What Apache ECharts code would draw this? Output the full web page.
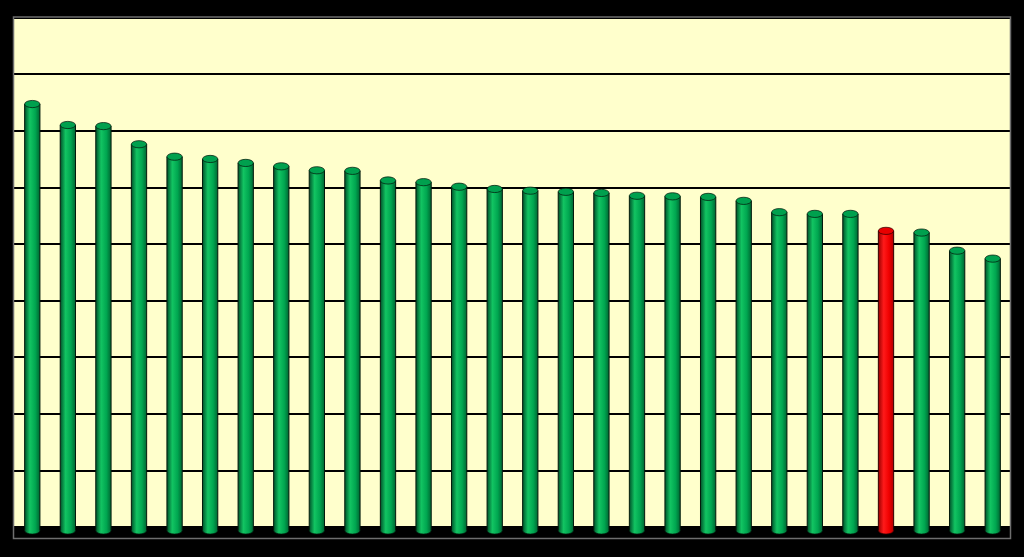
<!DOCTYPE html>
<html>
<head>
<meta charset="utf-8">
<script src="https://cdn.jsdelivr.net/npm/echarts@6/dist/echarts.min.js"></script>
<style>
html,body{margin:0;padding:0;background:#000;}
#chart{width:1024px;height:557px;}
</style>
</head>
<body>
<div id="chart"></div>
<script>
const categories = ['1','2','3','4','5','6','7','8','9','10','11','12','13','14','15','16','17','18','19','20','21','22','23','24','25','26','27','28'];
const values = [7.47, 7.10, 7.08, 6.76, 6.54, 6.50, 6.43, 6.37, 6.30, 6.29, 6.12, 6.09, 6.01, 5.97, 5.94, 5.92, 5.90, 5.85, 5.84, 5.83, 5.76, 5.56, 5.53, 5.53, 5.23, 5.20, 4.88, 4.74];
const highlighted = ['25'];
const yTicks = [0, 1, 2, 3, 4, 5, 6, 7, 8, 9];

const chart = echarts.init(document.getElementById('chart'), null, {renderer: 'canvas'});

function grad(c) {
  return new echarts.graphic.LinearGradient(0, 0, 1, 0, [
    {offset: 0, color: c[0]},
    {offset: 0.35, color: c[1]},
    {offset: 0.7, color: c[2]},
    {offset: 1, color: c[3]}
  ]);
}
const GREEN = {body: ['#00522a', '#12c462', '#00a650', '#006632'], top: '#00a04e', stroke: '#041a0c'};
const RED = {body: ['#9a0000', '#ff1a1a', '#f00000', '#b00000'], top: '#e80000', stroke: '#300000'};

function renderItem(params, api) {
  const idx = api.value(0);
  const val = api.value(1);
  const top = api.coord([idx, val]);
  const base = api.coord([idx, 0]);
  const bw = api.size([1, 0])[0];
  const rx = Math.max(3, bw * 0.215);
  const ry = 3.6;
  const cx = top[0] + 0.5;
  const ty = top[1];
  const by = base[1] + 3.5;
  const pal = highlighted.indexOf(categories[idx]) >= 0 ? RED : GREEN;
  return {
    type: 'group',
    children: [
      {
        type: 'circle',
        x: cx, y: by, scaleY: ry / rx,
        shape: {cx: 0, cy: 0, r: rx},
        style: {fill: grad(pal.body), stroke: pal.stroke, lineWidth: 1, strokeNoScale: true}
      },
      {
        type: 'rect',
        shape: {x: cx - rx, y: ty, width: rx * 2, height: by - ty},
        style: {fill: grad(pal.body)}
      },
      {
        type: 'line',
        shape: {x1: cx - rx, y1: ty, x2: cx - rx, y2: by},
        style: {stroke: pal.stroke, lineWidth: 1}
      },
      {
        type: 'line',
        shape: {x1: cx + rx, y1: ty, x2: cx + rx, y2: by},
        style: {stroke: pal.stroke, lineWidth: 1}
      },
      {
        type: 'circle',
        x: cx, y: ty, scaleY: ry / rx,
        shape: {cx: 0, cy: 0, r: rx},
        style: {fill: pal.top, stroke: pal.stroke, lineWidth: 1, strokeNoScale: true}
      }
    ]
  };
}

const option = {
  backgroundColor: '#000000',
  animation: false,
  grid: {
    left: 14, top: 17.4, width: 996, height: 509.6,
    show: true, backgroundColor: '#FFFFCC', borderWidth: 0
  },
  xAxis: {
    type: 'category', data: categories,
    axisLine: {show: false}, axisTick: {show: false}, axisLabel: {show: false},
    splitLine: {show: false}
  },
  yAxis: {
    type: 'value', min: yTicks[0], max: yTicks[yTicks.length - 1], interval: 1,
    axisLine: {show: false}, axisTick: {show: false}, axisLabel: {show: false},
    splitLine: {show: true, lineStyle: {color: '#000000', width: 2}}
  },
  graphic: [
    {
      type: 'rect', z: 100, silent: true,
      shape: {x: 13.5, y: 17, width: 997, height: 521.5},
      style: {fill: null, stroke: '#6e6e6e', lineWidth: 1.5}
    }
  ],
  series: [{
    type: 'custom',
    renderItem: renderItem,
    clip: false,
    data: values.map((v, i) => [i, v])
  }]
};
chart.setOption(option);
</script>
</body>
</html>
